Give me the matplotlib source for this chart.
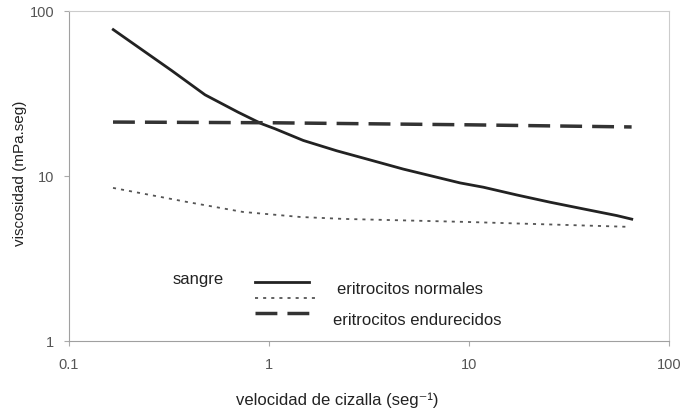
import matplotlib
matplotlib.use("Agg")
import matplotlib.pyplot as plt

# datos (escala log-log)
vel_normal = [0.1665, 0.222, 0.326, 0.479, 0.702, 0.919, 1.072, 1.484, 2.18, 3.20, 4.69,
              6.89, 9.02, 11.8, 17.3, 25.4, 37.3, 54.8, 65.1]
visc_normal = [77.0, 60.3, 43.5, 31.0, 24.3, 20.7, 19.3, 16.4, 14.2, 12.5, 11.0,
               9.82, 9.07, 8.54, 7.67, 6.93, 6.31, 5.75, 5.47]

vel_dot = [0.166, 0.39, 0.74, 1.43, 2.34, 9.8, 64]
visc_dot = [8.46, 6.95, 6.05, 5.64, 5.49, 5.26, 4.91]

vel_dash = [0.166, 1, 10, 65]
visc_dash = [21.2, 21.0, 20.4, 19.8]

plt.rcParams['font.family'] = ['Liberation Sans', 'DejaVu Sans']

fig = plt.figure(figsize=(6.85, 4.1), dpi=100)
ax = fig.add_axes([0.1007, 0.166, 0.876, 0.805])

ax.plot(vel_normal, visc_normal, color='#222222', lw=2.0)
ax.plot(vel_dot, visc_dot, color='#555555', lw=1.3, dashes=(1.7, 2.8))
ax.plot(vel_dash, visc_dash, color='#333333', lw=2.5, dashes=(6.3, 2.9))

ax.set_xscale('log')
ax.set_yscale('log')
ax.set_xlim(0.1, 100)
ax.set_ylim(1, 100)
ax.set_xticks([0.1, 1, 10, 100])
ax.set_xticklabels(['0.1', '1', '10', '100'])
ax.set_yticks([1, 10, 100])
ax.set_yticklabels(['1', '10', '100'])
ax.minorticks_off()
ax.tick_params(colors='#aaaaaa', labelcolor='#555555', labelsize=10.5, length=3.5, width=0.8)
ax.tick_params(axis='x', pad=8)
ax.tick_params(axis='y', pad=7)
for s in ['top', 'right']:
    ax.spines[s].set_color('#cccccc')
for s in ['left', 'bottom']:
    ax.spines[s].set_color('#a0a0a0')

ax.set_xlabel('velocidad de cizalla (seg⁻¹)', fontsize=12, color='#222222')
ax.xaxis.set_label_coords(0.447, -0.152)
ax.set_ylabel('viscosidad (mPa.seg)', fontsize=11, color='#222222')
ax.yaxis.set_label_coords(-0.07, 0.51)

# leyenda dibujada a mano
tr = ax.transAxes
ax.text(0.172, 0.188, 'sangre', transform=tr, fontsize=12, color='#222222', va='center')
ax.plot([0.31, 0.40], [0.179, 0.179], transform=tr, color='#222222', lw=2.0)
ax.plot([0.31, 0.415], [0.130, 0.130], transform=tr, color='#555555', lw=1.3, dashes=(1.7, 2.8))
ax.plot([0.31, 0.405], [0.085, 0.085], transform=tr, color='#333333', lw=2.5, dashes=(6.3, 2.9))
ax.text(0.447, 0.158, 'eritrocitos normales', transform=tr, fontsize=12, color='#222222', va='center')
ax.text(0.440, 0.064, 'eritrocitos endurecidos', transform=tr, fontsize=12, color='#222222', va='center')

fig.savefig('out.png', dpi=100)
